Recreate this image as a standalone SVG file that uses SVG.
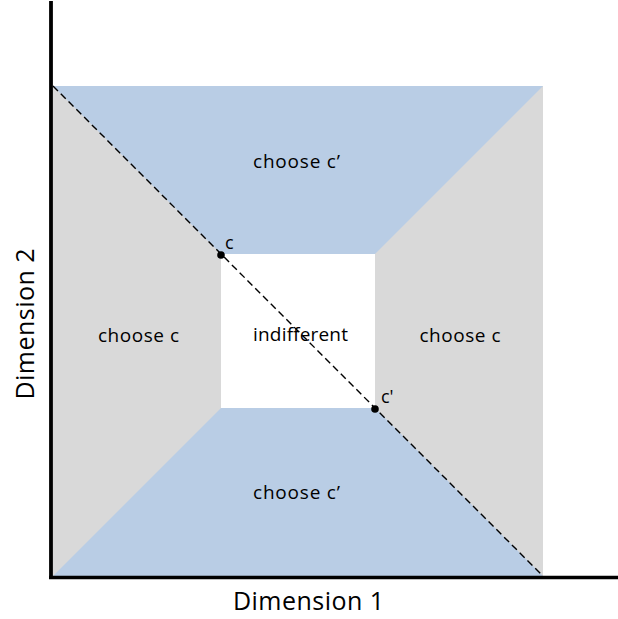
<svg xmlns="http://www.w3.org/2000/svg" width="618" height="619" viewBox="0 0 618 619">
<style>
.lbl{font-family:"Open Sans","Liberation Sans",sans-serif;font-size:19px;fill:#000;text-anchor:middle}
.ax{font-family:"Open Sans","Liberation Sans",sans-serif;font-size:25px;fill:#000;text-anchor:middle}
.pt{font-family:"Open Sans","Liberation Sans",sans-serif;font-size:18px;fill:#000}
.blue{fill:#B9CDE5}
.gray{fill:#D9D9D9}
</style>
<rect width="618" height="619" fill="#fff"/>
<g id="regions">
<rect id="bg" class="gray" x="53" y="86" width="490" height="490"/>
<polygon id="top" class="blue" points="53,86 543,86 375,254 221,254"/>
<polygon id="bottom" class="blue" points="221,408 375,408 543,576 53,576"/>
<rect id="indiff" x="221" y="254" width="154" height="154" fill="#fff"/>
</g>
<g id="connectors">
<line x1="53" y1="86" x2="543" y2="576" stroke="#000" stroke-width="1.4" stroke-dasharray="7,4"/>
<line x1="51" y1="1" x2="51" y2="579" stroke="#000" stroke-width="3.8"/>
<line x1="49" y1="577.5" x2="618" y2="577.5" stroke="#000" stroke-width="3.6"/>
</g>
<g id="points">
<circle cx="221" cy="255" r="3.8"/>
<circle cx="375" cy="409" r="3.8"/>
<text class="pt" x="225" y="249">c</text>
<text class="pt" x="381" y="403">c'</text>
</g>
<g id="labels">
<text class="lbl" x="296.5" y="168" textLength="87">choose c’</text>
<text class="lbl" x="296.5" y="499" textLength="87">choose c’</text>
<text class="lbl" x="138.5" y="342" textLength="81">choose c</text>
<text class="lbl" x="460" y="342" textLength="81">choose c</text>
<text class="lbl" x="300.5" y="341" textLength="95">indifferent</text>
<text class="ax" x="308.5" y="610" textLength="151">Dimension 1</text>
<text class="ax" transform="translate(34,324) rotate(-90)" textLength="151">Dimension 2</text>
</g>
</svg>
